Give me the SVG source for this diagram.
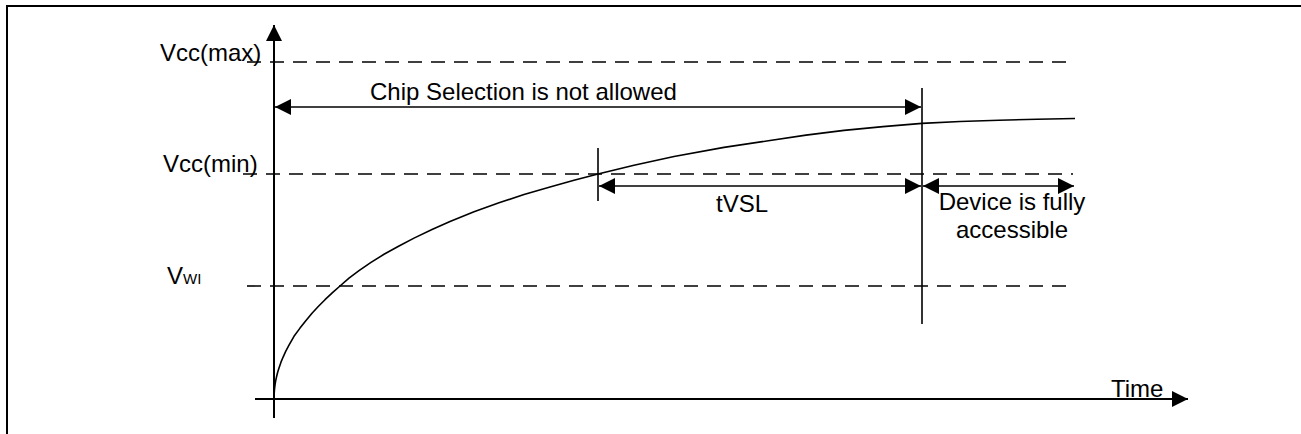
<svg xmlns="http://www.w3.org/2000/svg" width="1301" height="434" viewBox="0 0 1301 434">
<defs>
<style>
.t{font-family:"Liberation Sans",Arial,sans-serif;font-size:24px;fill:#000}
.ax{stroke:#000;stroke-width:2;fill:none}
.ln{stroke:#000;stroke-width:1.6;fill:none;stroke-linejoin:round}
.dash{stroke:#000;stroke-width:1.6;fill:none;stroke-dasharray:14 9}
</style>
<marker id="ah" viewBox="0 0 16 16" refX="16" refY="8" markerWidth="16" markerHeight="16" markerUnits="userSpaceOnUse" orient="auto-start-reverse">
<path d="M0,0 L16,8 L0,16 Z" fill="#000"/>
</marker>
</defs>
<rect id="frame" x="7" y="6" width="1310" height="440" fill="#fff" stroke="#000" stroke-width="2"/>
<g id="axes">
<line class="ax" x1="274" y1="418" x2="274" y2="25" marker-end="url(#ah)"/>
<line class="ax" x1="255" y1="399" x2="1188" y2="399" marker-end="url(#ah)"/>
</g>
<g id="levels">
<line class="dash" x1="247" y1="62" x2="1075" y2="62"/>
<line class="dash" x1="243" y1="174" x2="1073" y2="174"/>
<line class="dash" x1="247" y1="286" x2="1073" y2="286"/>
</g>
<g id="curve">
<polyline class="ln" points="274,399 274.2,393.5 274.5,389.2 275,385.1 275.7,380.6 276.5,377 277.6,372.5 279,367.9 280.9,362.4 283,357.3 285.8,351.2 289,345.2 294,336.3 300,328.1 306,320.5 312,313.3 318.5,306.3 325,299.7 332.5,292.7 340,286 349,278.2 359,270.7 371,262.4 384,254.3 399,246 414,238.1 432,229.5 450,221.6 474,211.8 499,202.8 524,194.6 550,187 574,180.2 598,174 634,165.2 674,156.5 724,147.4 770,140.5 806,135.1 844,130.4 883,126.6 922,123.4 960,121.5 999,120.2 1037,119.2 1075,118.5"/>
</g>
<g id="connectors">
<line class="ln" x1="922" y1="88" x2="922" y2="324"/>
<line class="ln" x1="598" y1="148" x2="598" y2="201"/>
<line class="ln" x1="275" y1="107" x2="921" y2="107" marker-start="url(#ah)" marker-end="url(#ah)"/>
<line class="ln" x1="599" y1="186" x2="921" y2="186" marker-start="url(#ah)" marker-end="url(#ah)"/>
<line class="ln" x1="923" y1="186" x2="1074" y2="186" marker-start="url(#ah)" marker-end="url(#ah)"/>
</g>
<g id="labels">
<text class="t" x="160" y="61">Vcc(max)</text>
<text class="t" x="163" y="172">Vcc(min)</text>
<text class="t" x="167" y="284">V<tspan font-size="15">WI</tspan></text>
<text class="t" x="370" y="100">Chip Selection is not allowed</text>
<text class="t" x="742" y="212" text-anchor="middle">tVSL</text>
<text class="t" x="1012" y="210" text-anchor="middle">Device is fully</text>
<text class="t" x="1012" y="238" text-anchor="middle">accessible</text>
<text class="t" x="1111" y="397">Time</text>
</g>
</svg>
